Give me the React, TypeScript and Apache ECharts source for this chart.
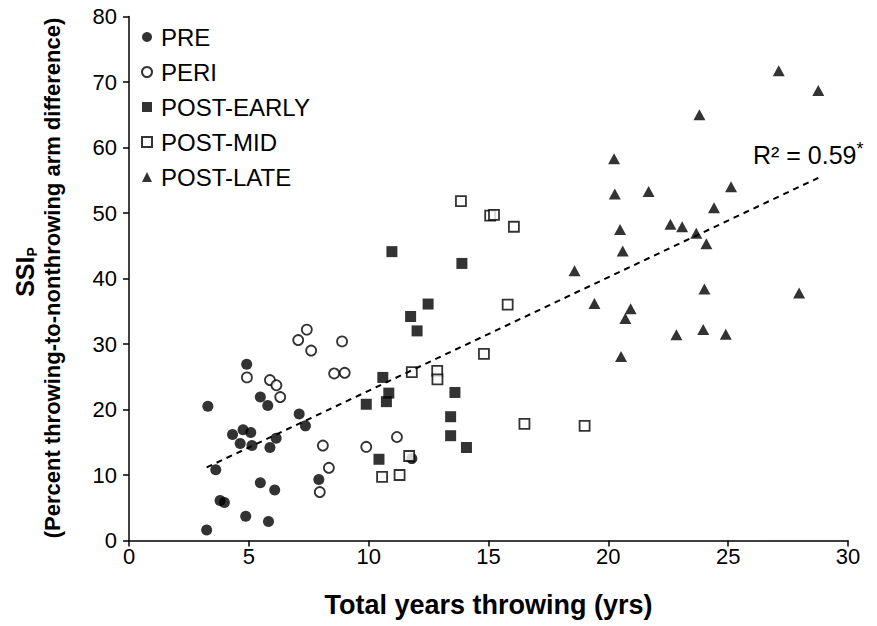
import { useEffect, useRef } from "react";
import * as echarts from "echarts";

const FONT = '"Liberation Sans", Arial, Helvetica, sans-serif';

const seriesNames = ["PRE", "PERI", "POST-EARLY", "POST-MID", "POST-LATE"];

const preData = [
  [3.29, 20.5], [3.24, 1.6], [3.62, 10.8], [3.8, 6.1], [3.98, 5.8],
  [4.32, 16.2], [4.64, 14.8], [4.76, 16.9], [5.08, 16.5], [5.13, 14.5],
  [4.87, 3.7], [5.48, 21.9], [5.79, 20.6], [5.88, 14.2], [6.14, 15.6],
  [5.48, 8.8], [6.08, 7.7], [5.82, 2.9], [7.1, 19.3], [7.36, 17.5],
  [7.92, 9.3], [4.91, 26.9], [11.8, 12.5],
];

const periData = [
  [4.92, 24.9], [5.88, 24.5], [6.15, 23.7], [6.31, 21.9], [7.06, 30.6],
  [7.42, 32.2], [7.6, 29.0], [8.89, 30.4], [8.56, 25.5], [9.0, 25.6],
  [8.09, 14.5], [8.34, 11.1], [7.96, 7.4], [9.9, 14.3], [11.18, 15.8],
];

const postEarlyData = [
  [10.97, 44.1], [13.89, 42.3], [12.48, 36.1], [11.75, 34.2], [12.02, 32.0],
  [10.59, 24.9], [10.84, 22.5], [10.74, 21.2], [9.9, 20.8], [13.6, 22.6],
  [13.42, 18.9], [13.42, 16.0], [14.08, 14.2], [10.43, 12.4],
];

const postMidData = [
  [15.8, 36.0], [14.81, 28.5], [11.8, 25.7], [12.86, 25.9], [12.87, 24.6],
  [16.5, 17.8], [19.01, 17.5], [11.69, 12.9], [10.56, 9.7], [11.29, 10.0],
  [13.85, 51.8], [15.07, 49.6], [15.23, 49.7], [16.06, 47.9],
];

const postLateData = [
  [27.11, 71.7], [28.76, 68.7], [23.8, 65.0], [20.24, 58.3], [20.27, 52.9],
  [21.68, 53.3], [25.12, 54.0], [24.41, 50.8], [20.49, 47.5], [22.59, 48.3],
  [23.08, 47.9], [23.67, 46.9], [24.09, 45.3], [20.6, 44.2], [19.42, 36.2],
  [18.59, 41.2], [20.93, 35.4], [20.71, 33.9], [24.01, 38.4], [27.96, 37.8],
  [22.84, 31.4], [23.96, 32.2], [24.9, 31.5], [20.53, 28.1],
];

const xTicks = { min: 0, max: 30, interval: 5 };
const yTicks = { min: 0, max: 80, interval: 10 };
const r2Label = "R² = 0.59";

function linearFit(points: number[][]) {
  const n = points.length;
  let sx = 0, sy = 0, sxx = 0, sxy = 0;
  for (const [x, y] of points) {
    sx += x; sy += y; sxx += x * x; sxy += x * y;
  }
  const b = (n * sxy - sx * sy) / (n * sxx - sx * sx);
  const a = (sy - b * sx) / n;
  const xs = points.map((p) => p[0]);
  const xmin = Math.min(...xs);
  const xmax = Math.max(...xs);
  return [
    [xmin, a + b * xmin],
    [xmax, a + b * xmax],
  ];
}

export default function App() {
  const ref = useRef<HTMLDivElement>(null);

  useEffect(() => {
    if (!ref.current) return;
    const chart = echarts.init(ref.current, undefined, { renderer: "svg" });
    const all = [...preData, ...periData, ...postEarlyData, ...postMidData, ...postLateData];
    const trend = linearFit(all);

    const base = {
      type: "scatter" as const,
      symbolSize: 11,
      z: 3,
    };

    chart.setOption({
      animation: false,
      backgroundColor: "#ffffff",
      textStyle: { fontFamily: FONT },
      grid: { left: 129, right: 29, top: 16.5, bottom: 85.5, containLabel: false },
      xAxis: {
        type: "value",
        min: xTicks.min,
        max: xTicks.max,
        interval: xTicks.interval,
        splitLine: { show: false },
        axisLine: { show: true, onZero: false, lineStyle: { color: "#000", width: 1.5 } },
        axisTick: { show: true, inside: false, length: 6, lineStyle: { color: "#000", width: 1.5 } },
        axisLabel: { color: "#000", fontSize: 22, fontFamily: FONT, margin: 5 },
        name: "Total years throwing (yrs)",
        nameLocation: "middle",
        nameGap: 51,
        nameTextStyle: { color: "#000", fontSize: 27, fontWeight: "bold", fontFamily: FONT },
      },
      yAxis: {
        type: "value",
        min: yTicks.min,
        max: yTicks.max,
        interval: yTicks.interval,
        splitLine: { show: false },
        axisLine: { show: true, onZero: false, lineStyle: { color: "#000", width: 1.5 } },
        axisTick: { show: true, inside: false, length: 6, lineStyle: { color: "#000", width: 1.5 } },
        axisLabel: { color: "#000", fontSize: 22, fontFamily: FONT, margin: 12 },
      },
      legend: {
        data: seriesNames,
        orient: "vertical",
        left: 136,
        top: 20,
        itemWidth: 10,
        itemHeight: 10,
        itemGap: 11,
        textStyle: { color: "#000", fontSize: 24, fontFamily: FONT, lineHeight: 24, padding: [0, 0, 0, 4] },
      },
      graphic: [
        {
          type: "text",
          x: 25,
          y: 272,
          rotation: Math.PI / 2,
          style: {
            text: "{a|SSI}{b|P}",
            textAlign: "center",
            textVerticalAlign: "middle",
            align: "center",
            verticalAlign: "middle",
            fill: "#000",
            rich: {
              a: { fontSize: 25, fontWeight: "bold", fontFamily: FONT, lineHeight: 28, fill: "#000", color: "#000" },
              b: { fontSize: 14, fontWeight: "bold", fontFamily: FONT, lineHeight: 14, verticalAlign: "bottom", fill: "#000", color: "#000" },
            },
          },
        },
        {
          type: "text",
          x: 52,
          y: 278,
          rotation: Math.PI / 2,
          style: {
            text: "(Percent throwing-to-nonthrowing arm difference)",
            textAlign: "center",
            textVerticalAlign: "middle",
            align: "center",
            verticalAlign: "middle",
            font: `bold 22px ${FONT}`,
            fill: "#000",
          },
        },
        {
          type: "text",
          x: 753,
          y: 155,
          style: {
            text: "{a|" + r2Label + "}{b|*}",
            textAlign: "left",
            textVerticalAlign: "middle",
            align: "left",
            verticalAlign: "middle",
            fill: "#000",
            rich: {
              a: { fontSize: 25, fontFamily: FONT, lineHeight: 30, fill: "#000", color: "#000" },
              b: { fontSize: 18, fontFamily: FONT, lineHeight: 18, verticalAlign: "top", fill: "#000", color: "#000" },
            },
          },
        },
      ],
      series: [
        {
          ...base,
          name: "PRE",
          data: preData,
          symbol: "circle",
          itemStyle: { color: "#000" },
        },
        {
          ...base,
          name: "PERI",
          data: periData,
          symbol: "circle",
          symbolSize: 10,
          itemStyle: { color: "#fff", borderColor: "#000", borderWidth: 1.8 },
        },
        {
          ...base,
          name: "POST-EARLY",
          data: postEarlyData,
          symbol: "rect",
          itemStyle: { color: "#000" },
        },
        {
          ...base,
          name: "POST-MID",
          data: postMidData,
          symbol: "rect",
          symbolSize: 10,
          itemStyle: { color: "#fff", borderColor: "#000", borderWidth: 1.8 },
        },
        {
          ...base,
          name: "POST-LATE",
          data: postLateData,
          symbol: "triangle",
          symbolSize: [12, 11],
          itemStyle: { color: "#000" },
        },
        {
          name: "Trend",
          type: "line",
          data: trend,
          showSymbol: false,
          symbol: "none",
          silent: true,
          z: 4,
          lineStyle: { color: "#000", width: 2, type: [6, 5] },
        },
      ],
    });

    return () => chart.dispose();
  }, []);

  return (
    <div
      ref={ref}
      style={{ position: "fixed", left: 0, top: 0, width: 877, height: 626, background: "#fff" }}
    />
  );
}
